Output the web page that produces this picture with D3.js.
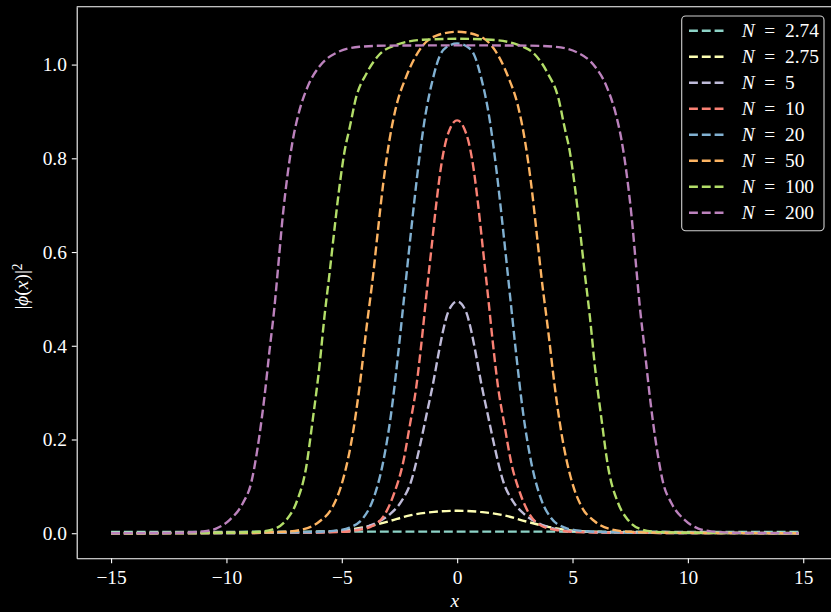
<!DOCTYPE html>
<html><head><meta charset="utf-8">
<script src="https://cdn.jsdelivr.net/npm/d3@7"></script>
<style>body{margin:0;background:#000;} svg{display:block;} text{font-family:"Liberation Serif","DejaVu Serif",serif;}</style>
</head><body><svg id="c" width="831" height="612"></svg>
<script>
// ---- data ----
const xTicks = [-15, -10, -5, 0, 5, 10, 15];
const yTicks = [0.0, 0.2, 0.4, 0.6, 0.8, 1.0];
const nLabels = ["2.74", "2.75", "5", "10", "20", "50", "100", "200"];

const n274 = [[-15,0.0025],[-12,0.0028],[-9,0.003],[-6,0.0032],[-3,0.0034],[0,0.0034],[3,0.0034],[6,0.0032],[9,0.003],[12,0.0028],[14.8,0.0025]];
const n275 = [[-15,0.0005],[-10,0.001],[-8,0.0015],[-7,0.002],[-6,0.003],[-5,0.0055],[-4,0.013],[-3,0.025],[-2,0.0385],[-1,0.0455],[0,0.048],[1,0.0455],[2,0.0385],[3,0.025],[4,0.013],[5,0.0055],[6,0.003],[7,0.002],[8,0.0015],[10,0.001],[14.8,0.0005]];
const n5 = [[-15,0],[-7,0.001],[-5,0.004],[-4.2,0.01],[-3.5,0.022],[-2.93,0.04],[-2.42,0.068],[-2,0.11],[-1.62,0.185],[-1.34,0.25],[-1.05,0.318],[-0.83,0.377],[-0.61,0.432],[-0.39,0.472],[0,0.4946],[0.39,0.472],[0.61,0.432],[0.83,0.377],[1.05,0.318],[1.34,0.25],[1.62,0.185],[2,0.11],[2.42,0.068],[2.93,0.04],[3.5,0.022],[4.2,0.01],[5,0.004],[7,0.001],[14.8,0]];
const n10 = [[-15,0],[-7,0.001],[-5,0.003],[-4.4,0.006],[-3.65,0.016],[-3.14,0.04],[-2.71,0.088],[-2.35,0.149],[-2.06,0.228],[-1.77,0.313],[-1.55,0.405],[-1.34,0.505],[-1.12,0.605],[-0.9,0.705],[-0.69,0.785],[-0.47,0.84],[-0.3,0.864],[-0.15,0.877],[0,0.881],[0.15,0.877],[0.3,0.864],[0.47,0.84],[0.69,0.785],[0.9,0.705],[1.12,0.605],[1.34,0.505],[1.55,0.405],[1.77,0.313],[2.06,0.228],[2.35,0.149],[2.71,0.088],[3.14,0.04],[3.65,0.016],[4.4,0.006],[5,0.003],[7,0.001],[14.8,0]];
const n20 = [[-15,0],[-8,0.001],[-6,0.003],[-5.2,0.006],[-4.66,0.012],[-4.08,0.032],[-3.65,0.071],[-3.22,0.149],[-2.86,0.256],[-2.57,0.377],[-2.28,0.5125],[-1.99,0.648],[-1.7,0.776],[-1.41,0.882],[-1.05,0.97],[-0.76,1.018],[-0.47,1.037],[0,1.045],[0.47,1.037],[0.76,1.018],[1.05,0.97],[1.41,0.882],[1.7,0.776],[1.99,0.648],[2.28,0.5125],[2.57,0.377],[2.86,0.256],[3.22,0.149],[3.65,0.071],[4.08,0.032],[4.66,0.012],[5.2,0.006],[6,0.003],[8,0.001],[14.8,0]];
const n50 = [[-15,0],[-9,0.001],[-7.5,0.003],[-6.69,0.008],[-5.97,0.025],[-5.39,0.057],[-4.95,0.114],[-4.52,0.2135],[-4.23,0.313],[-3.94,0.434],[-3.65,0.548],[-3.43,0.648],[-3.22,0.74],[-2.93,0.84],[-2.64,0.911],[-2.2,0.975],[-1.62,1.032],[-0.9,1.062],[0,1.07],[0.9,1.062],[1.62,1.032],[2.2,0.975],[2.64,0.911],[2.93,0.84],[3.22,0.74],[3.43,0.648],[3.65,0.548],[3.94,0.434],[4.23,0.313],[4.52,0.2135],[4.95,0.114],[5.39,0.057],[5.97,0.025],[6.69,0.008],[7.5,0.003],[9,0.001],[14.8,0]];
const n100 = [[-15,0],[-10,0.001],[-8.6,0.003],[-7.99,0.008],[-7.41,0.028],[-6.98,0.064],[-6.54,0.142],[-6.26,0.242],[-5.97,0.356],[-5.75,0.463],[-5.53,0.555],[-5.32,0.648],[-5.1,0.74],[-4.88,0.815],[-4.66,0.865],[-4.38,0.93],[-3.94,0.98],[-3.36,1.022],[-2.64,1.042],[-1.48,1.053],[0,1.055],[1.48,1.053],[2.64,1.042],[3.36,1.022],[3.94,0.98],[4.38,0.93],[4.66,0.865],[4.88,0.815],[5.1,0.74],[5.32,0.648],[5.53,0.555],[5.75,0.463],[5.97,0.356],[6.26,0.242],[6.54,0.142],[6.98,0.064],[7.41,0.028],[7.99,0.008],[8.6,0.003],[10,0.001],[14.8,0]];
const n200 = [[-15,0],[-12,0.001],[-11,0.004],[-10.45,0.01],[-9.87,0.028],[-9.29,0.064],[-8.93,0.107],[-8.64,0.185],[-8.35,0.292],[-8.13,0.391],[-7.92,0.482],[-7.77,0.562],[-7.56,0.676],[-7.34,0.769],[-7.12,0.84],[-6.9,0.89],[-6.47,0.954],[-5.97,0.996],[-5.24,1.025],[-4.23,1.038],[-3,1.0405],[0,1.041],[3,1.0405],[4.23,1.038],[5.24,1.025],[5.97,0.996],[6.47,0.954],[6.9,0.89],[7.12,0.84],[7.34,0.769],[7.56,0.676],[7.77,0.562],[7.92,0.482],[8.13,0.391],[8.35,0.292],[8.64,0.185],[8.93,0.107],[9.29,0.064],[9.87,0.028],[10.45,0.01],[11,0.004],[12,0.001],[14.8,0]];

const seriesData = [n274, n275, n5, n10, n20, n50, n100, n200];
const colors = ["#8dd3c7", "#feffb3", "#bfbbd9", "#fa8174", "#81b1d2", "#fdb462", "#b3de69", "#bc82bd"];

// ---- drawing ----
const W = 831, H = 612;
const FONT = "Liberation Serif, DejaVu Serif, serif";
const FS = 19.4;
const LW = 2.4, DASH = "8.9,3.9";
const svg = d3.select("#c");
svg.append("rect").attr("width", W).attr("height", H).attr("fill", "#000");

const L = 76.7, R = 833, T = 6.7, B = 558.3;
const x = d3.scaleLinear().domain([-16.49, 16.29]).range([L, R]);
const y = d3.scaleLinear().domain([-0.0535, 1.1235]).range([B, T]);

const line = d3.line().x(d => x(d[0])).y(d => y(d[1])).curve(d3.curveMonotoneX);

const plot = svg.append("g");
seriesData.forEach((s, i) => {
  plot.append("path").attr("d", line(s)).attr("fill", "none")
    .attr("stroke", colors[i]).attr("stroke-width", LW)
    .attr("stroke-dasharray", DASH);
});

const fmtX = d => (d < 0 ? "\u2212" + Math.abs(d) : String(d));
const xAxis = svg.append("g").attr("transform", `translate(0,${B})`)
  .call(d3.axisBottom(x).tickValues(xTicks).tickSize(4.9).tickSizeOuter(0).tickFormat(fmtX));
const yAxis = svg.append("g").attr("transform", `translate(${L},0)`)
  .call(d3.axisLeft(y).tickValues(yTicks).tickSize(4.9).tickSizeOuter(0).tickFormat(d3.format(".1f")));
[xAxis, yAxis].forEach(a => {
  a.attr("font-family", FONT).attr("font-size", FS);
  a.selectAll("path.domain").attr("stroke", "#fff").attr("stroke-width", 1.1);
  a.selectAll(".tick line").attr("stroke", "#fff").attr("stroke-width", 1.1);
  a.selectAll(".tick text").attr("fill", "#fff").attr("font-family", FONT).attr("font-size", FS);
});
xAxis.selectAll(".tick text").attr("y", 25.5).attr("dy", null);
yAxis.selectAll(".tick text").attr("x", -9.8).attr("dy", "0.33em");

// top & right spines
svg.append("line").attr("x1", L).attr("x2", R).attr("y1", T).attr("y2", T).attr("stroke", "#fff").attr("stroke-width", 1.1);
svg.append("line").attr("x1", R).attr("x2", R).attr("y1", T).attr("y2", B).attr("stroke", "#fff").attr("stroke-width", 1.1);

// axis labels
svg.append("text").attr("x", (L + R) / 2).attr("y", 607).attr("text-anchor", "middle")
  .attr("fill", "#fff").attr("font-family", FONT).attr("font-size", FS).attr("font-style", "italic").text("x");
const yl = svg.append("text").attr("transform", `translate(28,${(T + B) / 2 + 4}) rotate(-90)`)
  .attr("text-anchor", "middle").attr("fill", "#fff").attr("font-family", FONT).attr("font-size", FS);
yl.append("tspan").text("|");
yl.append("tspan").attr("font-style", "italic").text("\u03d5");
yl.append("tspan").text("(");
yl.append("tspan").attr("font-style", "italic").text("x");
yl.append("tspan").text(")|");
yl.append("tspan").attr("dy", "-0.45em").attr("font-size", FS * 0.7).text("2");

// legend
const lg = svg.append("g");
lg.append("rect").attr("x", 681.7).attr("y", 16).attr("width", 142.3).attr("height", 214.7)
  .attr("rx", 4).attr("fill", "#000").attr("fill-opacity", 0.8)
  .attr("stroke", "#d0d0d0").attr("stroke-width", 1.1);
nLabels.forEach((n, i) => {
  const cy = 30.7 + 26 * i;
  lg.append("line").attr("x1", 689).attr("x2", 727).attr("y1", cy).attr("y2", cy)
    .attr("stroke", colors[i]).attr("stroke-width", LW).attr("stroke-dasharray", DASH);
  const t = lg.append("text").attr("x", 741.7).attr("y", cy).attr("dy", "0.35em")
    .attr("fill", "#fff").attr("font-family", FONT).attr("font-size", FS);
  t.append("tspan").attr("font-style", "italic").text("N");
  t.append("tspan").attr("xml:space", "preserve").text("\u2002=\u2002" + n);
});
</script></body></html>
